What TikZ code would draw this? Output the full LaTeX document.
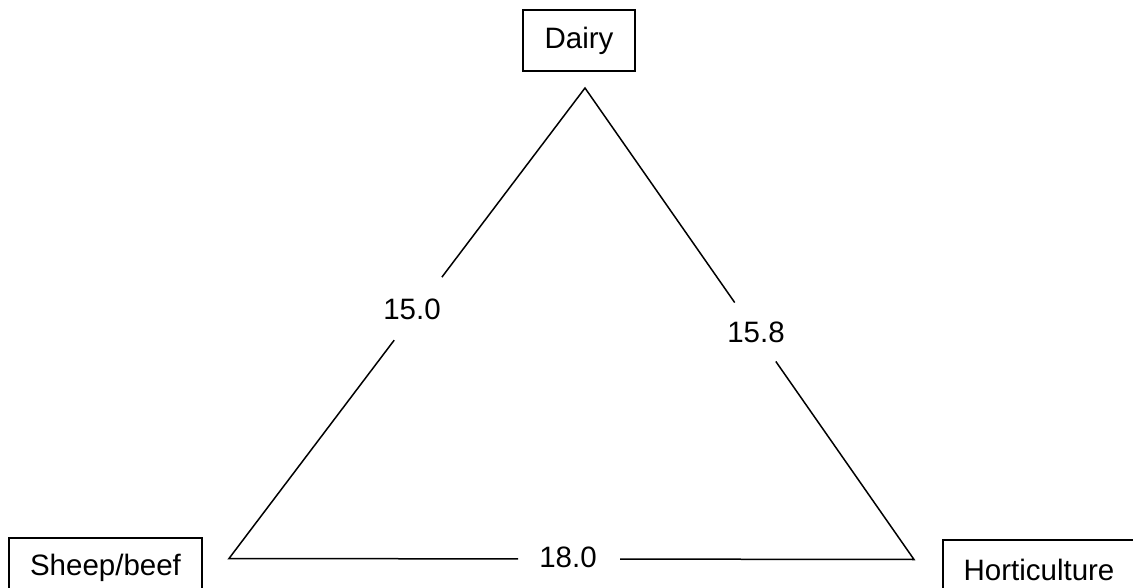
\documentclass[tikz,border=0pt]{standalone}
\usepackage{fontspec}
\setmainfont{Liberation Sans}
\usetikzlibrary{calc}
\begin{document}
\begin{tikzpicture}[x=1pt,y=-1pt,
  box/.style={draw, line width=1.5pt, inner sep=0pt, font=\fontsize{29.5}{34}\selectfont},
  lbl/.style={inner sep=0pt, font=\fontsize{29.5}{34}\selectfont},
  edge/.style={line width=1.5pt, line join=miter}]
\useasboundingbox (0,0) rectangle (1133,588);
% boxes
\node[box, minimum width=112pt, minimum height=61pt] (dairy) at (579,40.5) {Dairy};
\node[box, minimum width=193pt, minimum height=60pt] (sheep) at (105.5,568) {Sheep/beef};
\node[box, minimum width=192pt, minimum height=60pt] (hort) at (1039,570) {Horticulture};
% triangle vertices
\coordinate (D) at (585,88);
\coordinate (S) at (229,558.5);
\coordinate (H) at (914,559.5);
% labels
\node[lbl] (l1) at (412,309) {15.0};
\node[lbl] (l2) at (756,332) {15.8};
\node[lbl] (l3) at (568,557) {18.0};
% edges
\draw[edge] ($(S)!0.598!(D)$) -- (D) -- ($(D)!0.455!(H)$);
\draw[edge] ($(S)!0.464!(D)$) -- (S) -- ($(S)!0.422!(H)$);
\draw[edge] ($(S)!0.571!(H)$) -- (H) -- ($(D)!0.58!(H)$);
\end{tikzpicture}
\end{document}
